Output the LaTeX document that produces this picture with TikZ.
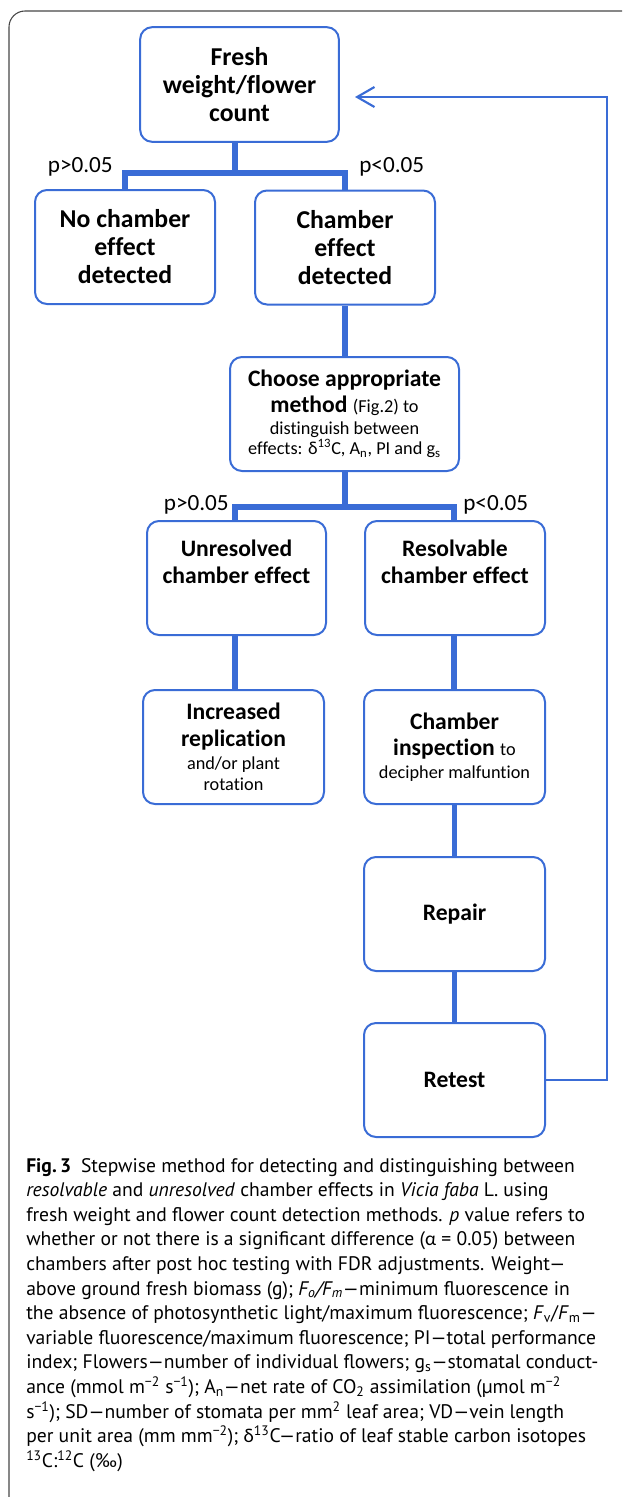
\documentclass[tikz,border=0pt]{standalone}
\usepackage{fontspec}
\setmainfont{Carlito}[Ligatures={NoCommon,TeX}]
\newfontfamily\capfont{PT Sans}[Ligatures=TeX]
\newfontfamily\grk{Carlito}
\usetikzlibrary{arrows.meta}
\definecolor{bblue}{RGB}{58,108,214}
\definecolor{framegray}{RGB}{70,70,70}
\tikzset{
  x=0.75pt, y=-0.75pt,
  box/.style={draw=bblue, line width=1.5pt, rounded corners=9pt, align=center,
    inner sep=0pt, minimum width=135pt, minimum height=85.5pt,
    font=\fontsize{17.7}{20}\selectfont\bfseries},
  bigbox/.style={box, font=\fontsize{19.3}{21}\selectfont\bfseries},
  conn/.style={draw=bblue, line width=3.9pt, line join=miter},
  fb/.style={draw=bblue, line width=1.6pt, line join=miter,
    -{Straight Barb[length=13pt, width=15pt, line width=1.6pt]}},
  plab/.style={font=\fontsize{17.4}{20}\selectfont, inner sep=0pt},
  capline/.style={anchor=base west, inner sep=0pt, font=\capfont\fontsize{14.7}{17}\selectfont},
}
\newcommand{\sm}{\fontsize{13.7}{15.2}\selectfont\mdseries}
\begin{document}
\begin{tikzpicture}
\useasboundingbox (0,0) rectangle (622,1497);
\begin{scope}
\clip (0,0) rectangle (622,1497);
\draw[framegray, line width=0.8pt, rounded corners=12pt] (9,11) rectangle (660,1515);
\end{scope}

% boxes
\node[bigbox, minimum width=149pt, minimum height=86pt] (b1) at (239.5,84.5) {Fresh\\weight/flower\\count};
\node[bigbox] (nce) at (125,247) {No chamber\\effect\\detected};
\node[bigbox] (ce) at (345,247.5) {Chamber\\effect\\detected};
\node[box, minimum width=171.75pt] (choose) at (344.5,414) {Choose appropriate\\[-1pt]method {\sm (Fig.2) to}\\[-3pt]{\sm distinguish between}\\[-5pt]{\sm effects: {\grk δ}\textsuperscript{13}C, A\textsubscript{n}, PI and g\textsubscript{s}}};
\node[box, minimum width=134.25pt] (unres) at (236.5,578) {Unresolved\\chamber effect\\[4pt]};
\node[box] (resol) at (455,578) {Resolvable\\chamber effect\\[4pt]};
\node[box, minimum width=135.75pt] (incr) at (233.5,747) {Increased\\replication\\[-3pt]{\sm and/or plant}\\[-4pt]{\sm rotation}};
\node[box, minimum width=135.75pt] (insp) at (454.5,747) {Chamber\\inspection {\sm to}\\[-3pt]{\sm decipher malfuntion}};
\node[box, minimum width=135.75pt] (repair) at (454.5,914) {Repair};
\node[box, minimum width=135.75pt] (retest) at (454.5,1080) {Retest};

% connectors
\coordinate (j1) at (235,173);
\draw[conn] (b1.south -| j1) -- (j1);
\draw[conn] (nce.north) -- (nce.north |- j1) -- (ce.north |- j1) -- (ce.north);
\draw[conn] (ce.south) -- (ce.south |- choose.north);
\coordinate (j2) at (345,507);
\draw[conn] (choose.south -| j2) -- (j2);
\coordinate (ul) at (235,507);
\coordinate (ur) at (454,507);
\draw[conn] (ul |- unres.north) -- (ul) -- (ur) -- (ur |- resol.north);
\draw[conn] (ul |- unres.south) -- (ul |- incr.north);
\draw[conn] (ur |- resol.south) -- (ur |- insp.north);
\draw[conn] (insp.south) -- (repair.north);
\draw[conn] (repair.south) -- (retest.north);

% feedback
\coordinate (fbc) at (607,97);
\coordinate (tip) at (355,97);
\draw[fb] (retest.east) -| (fbc) -- (tip);

% p labels
\node[plab, anchor=east] (p1) at (113,167) {p>0.05};
\node[plab, anchor=west] (p2) at (359,167) {p<0.05};
\node[plab, anchor=east] (p3) at (229,505) {p>0.05};
\node[plab, anchor=west] (p4) at (463,505) {p<0.05};

% caption
\node[capline] (cap1) at (26,1172) {\textbf{Fig.\,3}\enspace Stepwise method for detecting and distinguishing between};
\node[capline] (cap2) at (26,1196.6) {\textit{resolvable} and \textit{unresolved} chamber effects in \textit{Vicia faba} L. using};
\node[capline] (cap3) at (26,1221.2) {fresh weight and flower count detection methods. \textit{p} value refers to};
\node[capline] (cap4) at (26,1245.8) {whether or not there is a significant difference ({\grk α} = 0.05) between};
\node[capline] (cap5) at (26,1270.4) {chambers after post hoc testing with FDR adjustments. Weight—};
\node[capline] (cap6) at (26,1295) {above ground fresh biomass (g); \textit{F\textsubscript{o}/F\textsubscript{m}}—minimum fluorescence in};
\node[capline] (cap7) at (26,1319.6) {the absence of photosynthetic light/maximum fluorescence; \textit{F}\textsubscript{v}/\textit{F}\textsubscript{m}—};
\node[capline] (cap8) at (26,1344.2) {variable fluorescence/maximum fluorescence; PI—total performance};
\node[capline] (cap9) at (26,1368.8) {index; Flowers—number of individual flowers; g\textsubscript{s}—stomatal conduct-};
\node[capline] (cap10) at (26,1393.4) {ance (mmol m\textsuperscript{−2} s\textsuperscript{−1}); A\textsubscript{n}—net rate of CO\textsubscript{2} assimilation (µmol m\textsuperscript{−2}};
\node[capline] (cap11) at (26,1418) {s\textsuperscript{−1}); SD—number of stomata per mm\textsuperscript{2} leaf area; VD—vein length};
\node[capline] (cap12) at (26,1442.6) {per unit area (mm mm\textsuperscript{−2}); {\grk δ}\textsuperscript{13}C—ratio of leaf stable carbon isotopes};
\node[capline] (cap13) at (26,1467.2) {\textsuperscript{13}C:\textsuperscript{12}C (‰)};
\end{tikzpicture}
\end{document}
